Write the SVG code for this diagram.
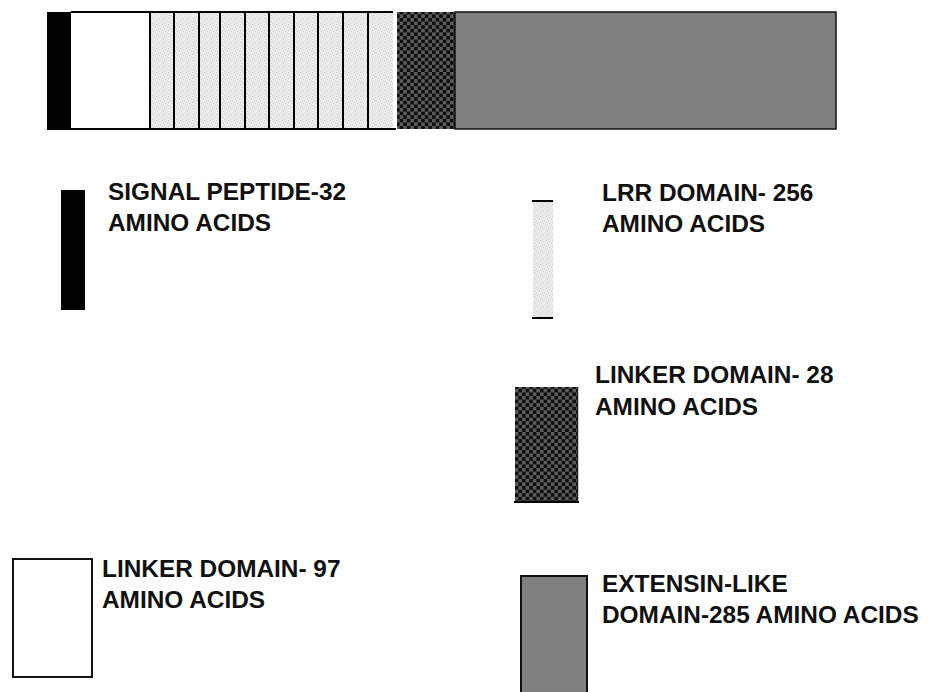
<svg xmlns="http://www.w3.org/2000/svg" width="928" height="692" viewBox="0 0 928 692">
<defs>
<pattern id="checker" width="7.2" height="7.2" patternUnits="userSpaceOnUse">
<rect width="7.2" height="7.2" fill="#5c5c5c"/>
<rect x="0" y="0" width="3.6" height="3.6" fill="#0e0e0e"/>
<rect x="3.6" y="3.6" width="3.6" height="3.6" fill="#0e0e0e"/>
</pattern>
<pattern id="speckle" width="6" height="6" patternUnits="userSpaceOnUse">
<rect width="6" height="6" fill="#ececec"/>
<rect x="0" y="0" width="1" height="1" fill="#c4c4c4"/>
<rect x="3" y="1" width="1" height="1" fill="#d0d0d8"/>
<rect x="1" y="3" width="1" height="1" fill="#c8c8c8"/>
<rect x="4" y="4" width="1" height="1" fill="#d4d4cc"/>
<rect x="2" y="5" width="1" height="1" fill="#cccccc"/>
<rect x="5" y="2" width="1" height="1" fill="#d8d8d8"/>
</pattern>
<style>
.lbl{font-family:"Liberation Sans",Arial,sans-serif;font-weight:bold;font-size:24.4px;fill:#111}
.ln{stroke:#000;stroke-width:2}
</style>
</defs>
<rect width="928" height="692" fill="#fff"/>

<g id="protein-bar">
<rect x="47" y="12" width="24" height="117" fill="#000"/>
<rect x="71" y="12" width="79" height="117" fill="#fff"/>
<rect x="150" y="12" width="243" height="117" fill="url(#speckle)"/>
<line class="ln" x1="71" y1="12" x2="393" y2="12"/>
<line class="ln" x1="47" y1="129" x2="396" y2="129"/>
<line class="ln" x1="150" y1="12" x2="150" y2="129"/>
<line class="ln" x1="174" y1="12" x2="174" y2="129"/>
<line class="ln" x1="199" y1="12" x2="199" y2="129"/>
<line class="ln" x1="220" y1="12" x2="220" y2="129"/>
<line class="ln" x1="245" y1="12" x2="245" y2="129"/>
<line class="ln" x1="269" y1="12" x2="269" y2="129"/>
<line class="ln" x1="294" y1="12" x2="294" y2="129"/>
<line class="ln" x1="318" y1="12" x2="318" y2="129"/>
<line class="ln" x1="343" y1="12" x2="343" y2="129"/>
<line class="ln" x1="368" y1="12" x2="368" y2="129"/>
<rect x="397" y="12" width="58" height="117" fill="url(#checker)"/>
<rect x="455" y="12" width="381" height="117" fill="#808080" stroke="#111" stroke-width="1.5"/>
</g>

<g id="signal-peptide">
<rect x="61" y="190" width="24" height="120" fill="#000"/>
<text class="lbl" x="108" y="200">SIGNAL PEPTIDE-32</text>
<text class="lbl" x="108" y="231">AMINO ACIDS</text>
</g>

<g id="lrr-domain">
<rect x="533" y="200" width="20" height="118" fill="url(#speckle)"/>
<line class="ln" x1="532" y1="201" x2="553" y2="201"/>
<line class="ln" x1="532" y1="318" x2="553" y2="318"/>
<text class="lbl" x="602" y="201">LRR DOMAIN- 256</text>
<text class="lbl" x="602" y="232">AMINO ACIDS</text>
</g>

<g id="linker-28">
<rect x="515" y="387" width="63" height="115" fill="url(#checker)"/>
<line class="ln" x1="514" y1="502" x2="579" y2="502"/>
<line x1="577.5" y1="387" x2="577.5" y2="502" stroke="#222" stroke-width="1.5"/>
<text class="lbl" x="595" y="383">LINKER DOMAIN- 28</text>
<text class="lbl" x="595" y="415">AMINO ACIDS</text>
</g>

<g id="linker-97">
<rect x="13" y="559" width="79" height="118" fill="#fff" stroke="#111" stroke-width="2"/>
<text class="lbl" x="102" y="577">LINKER DOMAIN- 97</text>
<text class="lbl" x="102" y="608">AMINO ACIDS</text>
</g>

<g id="extensin">
<rect x="521" y="576" width="66" height="120" fill="#808080" stroke="#111" stroke-width="2"/>
<text class="lbl" x="602" y="592">EXTENSIN-LIKE</text>
<text class="lbl" x="602" y="623">DOMAIN-285 AMINO ACIDS</text>
</g>

<g id="connectors"></g>
</svg>
